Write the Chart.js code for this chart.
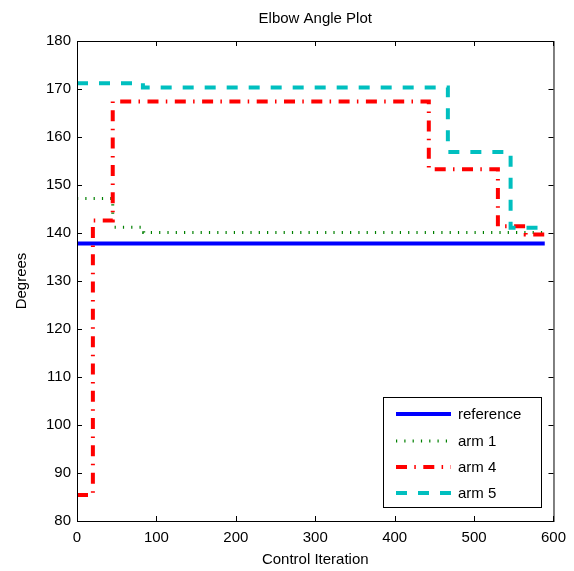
<!DOCTYPE html>
<html>
<head>
<meta charset="utf-8">
<script src="https://cdn.jsdelivr.net/npm/chart.js@4"></script>
<style>
  html, body { margin: 0; padding: 0; background: #fff; }
  #wrap { width: 574px; height: 571px; }
</style>
</head>
<body>
<div id="wrap"><canvas id="elbowChart" width="574" height="571"></canvas></div>
<script>
// step data (x = control iteration, y = degrees)
const refX = [0, 589];
const refY = [137.8, 137.8];

const arm1X = [0, 45, 84, 589];
const arm1Y = [147.2, 141.2, 140.1, 140.1];

const arm4X = [0, 20, 45, 443, 530, 565, 589];
const arm4Y = [85.4, 142.6, 167.4, 153.3, 141.4, 139.7, 139.7];

const arm5X = [0, 83, 467, 546, 589];
const arm5Y = [171.2, 170.3, 156.9, 141.1, 141.1];

const xTicks = [0, 100, 200, 300, 400, 500, 600];
const yTicks = [80, 90, 100, 110, 120, 130, 140, 150, 160, 170, 180];

const FONT = 'Liberation Sans, Arial, Helvetica, sans-serif';

function toPoints(xs, ys) {
    return xs.map((x, i) => ({ x: x, y: ys[i] }));
}

// box, inward ticks on all sides, title and the legend box (MATLAB look)
const matlabFrame = {
    id: 'matlabFrame',
    afterDraw(chart) {
        const ctx = chart.ctx;
        const a = chart.chartArea;
        const xs = chart.scales.x, ys = chart.scales.y;
        ctx.save();
        ctx.strokeStyle = '#000';
        ctx.lineWidth = 1;
        ctx.strokeRect(a.left + 0.5, a.top + 0.5, a.right - a.left, a.bottom - a.top);
        ctx.beginPath();
        xTicks.forEach(v => {
            const px = Math.round(xs.getPixelForValue(v)) + 0.5;
            ctx.moveTo(px, a.bottom); ctx.lineTo(px, a.bottom - 5);
            ctx.moveTo(px, a.top); ctx.lineTo(px, a.top + 5);
        });
        yTicks.forEach(v => {
            const py = Math.round(ys.getPixelForValue(v)) + 0.5;
            ctx.moveTo(a.left, py); ctx.lineTo(a.left + 5, py);
            ctx.moveTo(a.right, py); ctx.lineTo(a.right - 5, py);
        });
        ctx.stroke();

        // title
        ctx.fillStyle = '#000';
        ctx.font = '15px ' + FONT;
        ctx.textAlign = 'center';
        ctx.textBaseline = 'middle';
        ctx.fillText('Elbow Angle Plot', (a.left + a.right) / 2, 19);

        // legend
        const lx = 383.5, ly = 397.5, lw = 158, lh = 110;
        ctx.fillStyle = '#fff';
        ctx.fillRect(lx, ly, lw, lh);
        ctx.strokeRect(lx, ly, lw, lh);
        const rows = [414, 441, 467, 493];
        chart.data.datasets.forEach((ds, i) => {
            const y = rows[i];
            ctx.save();
            ctx.strokeStyle = ds.borderColor;
            ctx.lineWidth = ds.borderWidth;
            ctx.setLineDash(ds.borderDash || []);
            ctx.beginPath();
            ctx.moveTo(396, y);
            ctx.lineTo(451, y);
            ctx.stroke();
            ctx.restore();
            ctx.fillStyle = '#000';
            ctx.textAlign = 'left';
            ctx.fillText(ds.label, 458, y + 1);
        });
        ctx.restore();
    }
};

new Chart(document.getElementById('elbowChart').getContext('2d'), {
    type: 'line',
    data: {
        datasets: [
            { label: 'reference', data: toPoints(refX, refY), borderColor: '#0000ff', borderWidth: 4, order: 4 },
            { label: 'arm 1', data: toPoints(arm1X, arm1Y), borderColor: '#008000', borderWidth: 3, borderDash: [1.2, 7.1], order: 3 },
            { label: 'arm 4', data: toPoints(arm4X, arm4Y), borderColor: '#ff0000', borderWidth: 4, borderDash: [11, 7.3, 1.5, 7.5], order: 2 },
            { label: 'arm 5', data: toPoints(arm5X, arm5Y), borderColor: '#00bfbf', borderWidth: 4, borderDash: [11, 11], order: 1 }
        ]
    },
    options: {
        responsive: false,
        animation: false,
        layout: { padding: { left: 0, right: 15, top: 41, bottom: 0 } },
        datasets: { line: { stepped: 'before', pointRadius: 0, fill: false, tension: 0 } },
        plugins: {
            legend: { display: false },
            tooltip: { enabled: false },
            title: { display: false }
        },
        scales: {
            x: {
                type: 'linear', min: 0, max: 600,
                grid: { display: false, drawTicks: false },
                border: { display: false },
                ticks: { stepSize: 100, color: '#000', padding: 8, maxRotation: 0, font: { family: FONT, size: 15 } },
                title: { display: true, text: 'Control Iteration', color: '#000', padding: { top: 0, bottom: 2 }, font: { family: FONT, size: 15 } },
                afterFit(scale) { scale.height = 50; }
            },
            y: {
                type: 'linear', min: 80, max: 180,
                grid: { display: false, drawTicks: false },
                border: { display: false },
                ticks: { stepSize: 10, color: '#000', padding: 6, font: { family: FONT, size: 15 } },
                title: { display: true, text: 'Degrees', color: '#000', padding: { top: 13, bottom: 0 }, font: { family: FONT, size: 15 } },
                afterFit(scale) { scale.width = 77; }
            }
        }
    },
    plugins: [matlabFrame]
});
</script>
</body>
</html>
